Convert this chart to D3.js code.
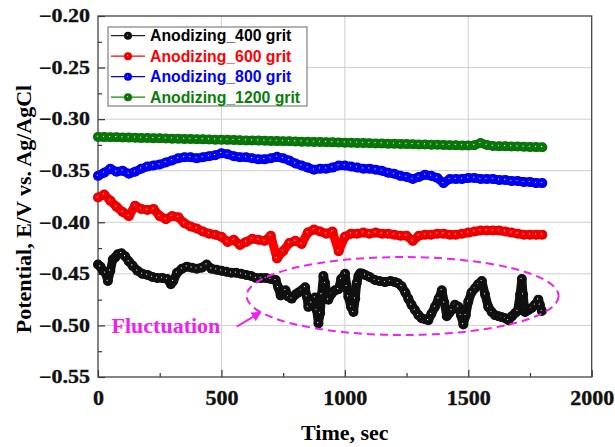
<!DOCTYPE html>
<html>
<head>
<meta charset="utf-8">
<script src="https://cdn.jsdelivr.net/npm/d3@7.9.0/dist/d3.min.js"></script>
<style>
html, body { margin: 0; padding: 0; background: #fff; }
svg { display: block; }
</style>
</head>
<body>
<svg id="chart" width="615" height="447"></svg>
<script>
// ---- data ----
const seriesNames = ['Anodizing_400 grit', 'Anodizing_600 grit', 'Anodizing_800 grit', 'Anodizing_1200 grit'];
const seriesColors = ['#111111', '#ff0000', '#0000ff', '#0a7d0a'];
const legendTextColors = ['#000000', '#ff0000', '#0000ff', '#0a7d0a'];

const xTicks = [0, 500, 1000, 1500, 2000];
const yTicks = [-0.55, -0.50, -0.45, -0.40, -0.35, -0.30, -0.25, -0.20];
const xMinorTicks = [250, 750, 1250, 1750];
const yMinorTicks = [-0.525, -0.475, -0.425, -0.375, -0.325, -0.275, -0.225];

// common sampling times (sec) for the 600 / 800 / 1200 grit curves
const timeSec = [
  0, 25, 50, 75, 100, 125, 150, 175, 200, 225,
  250, 275, 300, 325, 350, 375, 400, 425, 450, 475,
  500, 525, 550, 575, 600, 625, 650, 675, 700, 725,
  750, 775, 800, 825, 850, 875, 900, 925, 950, 975,
  1000, 1025, 1050, 1075, 1100, 1125, 1150, 1175, 1200, 1225,
  1250, 1275, 1300, 1325, 1350, 1375, 1400, 1425, 1450, 1475,
  1500, 1525, 1550, 1575, 1600, 1625, 1650, 1675, 1700, 1725,
  1750, 1775, 1800
];

const grit1200 = [
  -0.3172, -0.3174, -0.3175, -0.3176, -0.3178, -0.3179, -0.3180, -0.3182, -0.3183, -0.3185,
  -0.3186, -0.3188, -0.3189, -0.3190, -0.3192, -0.3193, -0.3195, -0.3196, -0.3197, -0.3199,
  -0.3200, -0.3201, -0.3203, -0.3204, -0.3206, -0.3207, -0.3208, -0.3210, -0.3211, -0.3213,
  -0.3214, -0.3215, -0.3217, -0.3218, -0.3220, -0.3221, -0.3222, -0.3224, -0.3225, -0.3227,
  -0.3228, -0.3229, -0.3231, -0.3232, -0.3234, -0.3235, -0.3236, -0.3238, -0.3239, -0.3241,
  -0.3242, -0.3243, -0.3245, -0.3246, -0.3248, -0.3249, -0.3250, -0.3252, -0.3253, -0.3255,
  -0.3256, -0.3252, -0.3232, -0.3250, -0.3260, -0.3262, -0.3263, -0.3265, -0.3266, -0.3268,
  -0.3269, -0.3271, -0.3273
];

const grit800 = [
  -0.355, -0.352, -0.348, -0.351, -0.350, -0.353, -0.351, -0.348, -0.346, -0.345,
  -0.344, -0.342, -0.340, -0.338, -0.337, -0.337, -0.338, -0.337, -0.336, -0.335,
  -0.333, -0.334, -0.336, -0.337, -0.337, -0.338, -0.339, -0.339, -0.338, -0.3365,
  -0.338, -0.340, -0.343, -0.345, -0.347, -0.349, -0.348, -0.348, -0.347, -0.345,
  -0.345, -0.346, -0.347, -0.348, -0.348, -0.349, -0.350, -0.352, -0.353, -0.355,
  -0.356, -0.358, -0.356, -0.354, -0.355, -0.357, -0.362, -0.358, -0.358, -0.358,
  -0.357, -0.357, -0.358, -0.358, -0.358, -0.359, -0.359, -0.360, -0.360, -0.361,
  -0.361, -0.362, -0.362
];

const grit600 = [
  -0.376, -0.373, -0.379, -0.385, -0.390, -0.394, -0.384, -0.387, -0.388, -0.387,
  -0.394, -0.397, -0.394, -0.395, -0.401, -0.404, -0.406, -0.409, -0.411, -0.412,
  -0.414, -0.419, -0.417, -0.422, -0.419, -0.416, -0.417, -0.418, -0.413, -0.435,
  -0.428, -0.420, -0.418, -0.421, -0.410, -0.407, -0.409, -0.411, -0.409, -0.428,
  -0.414, -0.411, -0.411, -0.410, -0.411, -0.410, -0.411, -0.411, -0.412, -0.413,
  -0.413, -0.418, -0.413, -0.412, -0.412, -0.411, -0.411, -0.412, -0.412, -0.411,
  -0.410, -0.409, -0.408, -0.408, -0.408, -0.408, -0.409, -0.410, -0.411, -0.412,
  -0.412, -0.412, -0.412
];

// 400 grit curve, [time sec, potential V] (denser where it fluctuates)
const grit400 = [
  [0, -0.441], [10, -0.443], [20, -0.447], [30, -0.449], [40, -0.457], [50, -0.447],
  [60, -0.436], [70, -0.434], [80, -0.431], [95, -0.430], [110, -0.433], [125, -0.438],
  [140, -0.442], [160, -0.447], [180, -0.450], [200, -0.451], [220, -0.453], [240, -0.454],
  [260, -0.454], [280, -0.455], [295, -0.460], [305, -0.457], [320, -0.449], [340, -0.445],
  [360, -0.443], [380, -0.444], [400, -0.445], [420, -0.444], [440, -0.441], [460, -0.445],
  [480, -0.446], [500, -0.447], [520, -0.448], [540, -0.449], [560, -0.449], [580, -0.450],
  [600, -0.451], [620, -0.452], [640, -0.454], [660, -0.454], [680, -0.454], [700, -0.455],
  [720, -0.456], [730, -0.463], [740, -0.471], [750, -0.468], [760, -0.466], [770, -0.472],
  [785, -0.474], [800, -0.470], [812, -0.468], [825, -0.466], [839, -0.463], [846, -0.472],
  [852, -0.482], [865, -0.478], [879, -0.473], [886, -0.485], [893, -0.498], [900, -0.488],
  [906, -0.470], [913, -0.452], [920, -0.459], [933, -0.475], [947, -0.469], [960, -0.466],
  [974, -0.465], [985, -0.455], [1001, -0.450], [1008, -0.462], [1014, -0.472], [1025, -0.482],
  [1035, -0.487], [1042, -0.474], [1048, -0.459], [1055, -0.452], [1062, -0.4495], [1072, -0.450],
  [1082, -0.451], [1100, -0.453], [1122, -0.456], [1140, -0.457], [1163, -0.458], [1185, -0.457],
  [1203, -0.458], [1215, -0.459], [1230, -0.462], [1245, -0.468], [1257, -0.474], [1270, -0.480],
  [1284, -0.485], [1298, -0.490], [1311, -0.493], [1325, -0.494], [1338, -0.495], [1350, -0.489],
  [1365, -0.482], [1380, -0.474], [1393, -0.466], [1403, -0.478], [1413, -0.491], [1423, -0.488],
  [1433, -0.485], [1446, -0.480], [1460, -0.482], [1470, -0.490], [1480, -0.499], [1490, -0.490],
  [1500, -0.477], [1513, -0.468], [1527, -0.464], [1540, -0.460], [1555, -0.457], [1568, -0.470],
  [1581, -0.482], [1595, -0.487], [1608, -0.490], [1622, -0.491], [1636, -0.492], [1650, -0.493],
  [1663, -0.495], [1677, -0.491], [1690, -0.488], [1700, -0.486], [1710, -0.470], [1717, -0.455],
  [1722, -0.470], [1730, -0.487], [1744, -0.485], [1757, -0.483], [1770, -0.480], [1784, -0.475],
  [1790, -0.480], [1798, -0.486]
];

// annotation, in data units
const ellipseCenter = [1234, -0.4715];
const ellipseRadii = [632, 0.0378];
const arrowFrom = [562, -0.5012];
const arrowTo = [656, -0.4877];
const noteAt = [55, -0.5073];

// ---- build ----
const series = [
  grit400,
  timeSec.map((t, i) => [t, grit600[i]]),
  timeSec.map((t, i) => [t, grit800[i]]),
  timeSec.map((t, i) => [t, grit1200[i]])
];

const svg = d3.select('#chart');
const margin = { top: 16, right: 23.3, bottom: 70, left: 98 };
const width = 615, height = 447;

const x = d3.scaleLinear().domain([0, 2000]).range([margin.left, width - margin.right]);
const y = d3.scaleLinear().domain([-0.55, -0.20]).range([height - margin.bottom, margin.top]);

const serif = '"Liberation Serif", "Times New Roman", serif';
const sans = '"Liberation Sans", Arial, sans-serif';

// sphere-like marker fills
const defs = svg.append('defs');
seriesColors.forEach((c, i) => {
  const g = defs.append('radialGradient').attr('id', 'ball' + i)
    .attr('cx', '50%').attr('cy', '50%').attr('r', '55%').attr('fx', '42%').attr('fy', '42%');
  g.append('stop').attr('offset', '0%').attr('stop-color', '#ffffff');
  g.append('stop').attr('offset', '18%').attr('stop-color', c);
  g.append('stop').attr('offset', '100%').attr('stop-color', d3.color(c).darker(0.4));
});
defs.append('marker').attr('id', 'arrowhead')
  .attr('viewBox', '0 0 10 10').attr('refX', 8).attr('refY', 5)
  .attr('markerWidth', 5).attr('markerHeight', 5).attr('orient', 'auto')
  .append('path').attr('d', 'M0,0 L10,5 L0,10 Z').attr('fill', '#ee22ee');

// grid
const grid = svg.append('g');
grid.selectAll('.gx').data(xTicks.slice(1, -1)).join('line')
  .attr('x1', d => x(d)).attr('x2', d => x(d))
  .attr('y1', y.range()[0]).attr('y2', y.range()[1])
  .attr('stroke', '#cfcfcf').attr('stroke-width', 1);
grid.selectAll('.gy').data(yTicks.slice(1, -1)).join('line')
  .attr('y1', d => y(d)).attr('y2', d => y(d))
  .attr('x1', x.range()[0]).attr('x2', x.range()[1])
  .attr('stroke', '#cfcfcf').attr('stroke-width', 1);

// axes
const xAxis = svg.append('g')
  .attr('transform', `translate(0,${y.range()[0]})`)
  .call(d3.axisBottom(x).tickValues(xTicks).tickSize(-7).tickPadding(12).tickFormat(d3.format('d')));
svg.append('g')
  .attr('transform', `translate(0,${y.range()[0]})`)
  .call(d3.axisBottom(x).tickValues(xMinorTicks).tickSize(-4).tickFormat(''));

const yAxis = svg.append('g')
  .attr('transform', `translate(${x.range()[0]},0)`)
  .call(d3.axisLeft(y).tickValues(yTicks).tickSize(-7).tickPadding(8).tickFormat(d3.format('.2f')));
svg.append('g')
  .attr('transform', `translate(${x.range()[0]},0)`)
  .call(d3.axisLeft(y).tickValues(yMinorTicks).tickSize(-4).tickFormat(''));

svg.selectAll('.domain').remove();
svg.selectAll('.tick line').attr('stroke', '#333').attr('stroke-width', 1.2);
xAxis.attr('font-family', null).attr('font-size', null);
yAxis.attr('font-family', null).attr('font-size', null);
xAxis.selectAll('text').style('font-family', serif).style('font-weight', 'bold')
  .style('font-size', '22px').attr('fill', '#111')
  .attr('stroke', '#111').attr('stroke-width', 0.4);
yAxis.selectAll('text').style('font-family', serif).style('font-weight', 'bold')
  .style('font-size', '22px').attr('fill', '#111').attr('transform', 'scale(1,0.82)')
  .attr('stroke', '#111').attr('stroke-width', 0.4);

// frame
svg.append('rect')
  .attr('x', x.range()[0]).attr('y', y.range()[1])
  .attr('width', x.range()[1] - x.range()[0]).attr('height', y.range()[0] - y.range()[1])
  .attr('fill', 'none').attr('stroke', '#444').attr('stroke-width', 1.3);

// axis titles
svg.append('text')
  .attr('x', (x.range()[0] + x.range()[1]) / 2).attr('y', 440)
  .attr('text-anchor', 'middle')
  .style('font-family', serif).style('font-weight', 'bold').style('font-size', '22px')
  .text('Time, sec');
svg.append('text')
  .attr('transform', `translate(31,209) rotate(-90)`)
  .attr('text-anchor', 'middle')
  .style('font-family', serif).style('font-weight', 'bold').style('font-size', '22px')
  .text('Potential, E/V vs. Ag/AgCl');

// curves
const line = d3.line().x(d => x(d[0])).y(d => y(d[1]));
const plot = svg.append('g');
series.forEach((s, i) => {
  const g = plot.append('g');
  g.append('path').datum(s).attr('d', line)
    .attr('fill', 'none').attr('stroke', seriesColors[i])
    .attr('stroke-width', 9).attr('stroke-linejoin', 'round').attr('stroke-linecap', 'round');
  g.selectAll('circle').data(s).join('circle')
    .attr('cx', d => x(d[0])).attr('cy', d => y(d[1])).attr('r', 5)
    .attr('fill', `url(#ball${i})`);
});

// fluctuation annotation
svg.append('ellipse')
  .attr('cx', x(ellipseCenter[0])).attr('cy', y(ellipseCenter[1]))
  .attr('rx', x(ellipseRadii[0]) - x(0))
  .attr('ry', y(ellipseCenter[1] - ellipseRadii[1]) - y(ellipseCenter[1]))
  .attr('fill', 'none').attr('stroke', '#ee22ee').attr('stroke-width', 2)
  .attr('stroke-dasharray', '8,5');
svg.append('line')
  .attr('x1', x(arrowFrom[0])).attr('y1', y(arrowFrom[1]))
  .attr('x2', x(arrowTo[0])).attr('y2', y(arrowTo[1]))
  .attr('stroke', '#ee22ee').attr('stroke-width', 2)
  .attr('marker-end', 'url(#arrowhead)');
svg.append('text')
  .attr('x', x(noteAt[0])).attr('y', y(noteAt[1]))
  .style('font-family', serif).style('font-weight', 'bold').style('font-size', '22px')
  .attr('fill', '#ee22ee')
  .text('Fluctuation');

// legend
const legend = svg.append('g').attr('transform', 'translate(108,27)');
legend.append('rect').attr('width', 199).attr('height', 79)
  .attr('fill', '#fff').attr('stroke', '#666').attr('stroke-width', 1);
seriesNames.forEach((name, i) => {
  const row = legend.append('g').attr('transform', `translate(0,${8.7 + i * 20.5})`);
  row.append('line').attr('x1', 3).attr('x2', 37).attr('y1', 0).attr('y2', 0)
    .attr('stroke', d3.color(seriesColors[i]).brighter(i === 0 ? 2 : 0.3)).attr('stroke-width', 1.2);
  row.append('circle').attr('cx', 20).attr('cy', 0).attr('r', 4).attr('fill', `url(#ball${i})`);
  row.append('text').attr('x', 42).attr('y', 0).attr('dy', '0.36em')
    .style('font-family', sans).style('font-weight', 'bold').style('font-size', '15.8px')
    .attr('fill', legendTextColors[i])
    .text(name);
});
</script>
</body>
</html>
